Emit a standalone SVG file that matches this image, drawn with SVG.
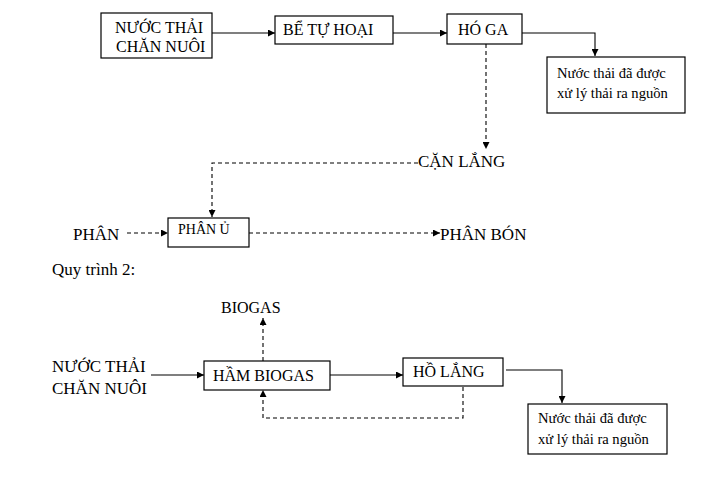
<svg xmlns="http://www.w3.org/2000/svg" width="722" height="480" viewBox="0 0 722 480">
<style>
text{font-family:"Liberation Serif","Times New Roman",serif;fill:#000}
.b{fill:#fff;stroke:#000;stroke-width:1.2}
.l{fill:none;stroke:#000;stroke-width:1.1}
.d{fill:none;stroke:#000;stroke-width:1.1;stroke-dasharray:4 3}
.f16{font-size:16px}.f17{font-size:17px}.f14{font-size:14.6px}.f14s{font-size:14px}
</style>
<defs>
<marker id="a" viewBox="0 0 10 10" refX="10" refY="5" markerWidth="8" markerHeight="7" markerUnits="userSpaceOnUse" orient="auto"><path d="M0,0L10,5L0,10z" fill="#000"/></marker>
</defs>
<rect width="722" height="480" fill="#fff"/>
<g id="connectors">
<path class="l" d="M212,33H275" marker-end="url(#a)"/>
<path class="l" d="M393,33H447" marker-end="url(#a)"/>
<path class="l" d="M522,33H595V56" marker-end="url(#a)"/>
<path class="d" d="M486,44V149" marker-end="url(#a)"/>
<path class="d" d="M418,163H212V217" marker-end="url(#a)"/>
<path class="d" d="M127,233H168" marker-end="url(#a)"/>
<path class="d" d="M249,233H440" marker-end="url(#a)"/>
<path class="d" d="M263,361V318" marker-end="url(#a)"/>
<path class="l" d="M151,375H204" marker-end="url(#a)"/>
<path class="l" d="M330,375H403" marker-end="url(#a)"/>
<path class="l" d="M506,370H562V403" marker-end="url(#a)"/>
<path class="d" d="M463,387V418H263V390" marker-end="url(#a)"/>
</g>
<g id="n1"><rect class="b" x="101" y="13" width="111" height="45"/><text class="f16" x="115" y="33">NƯỚC THẢI</text><text class="f16" x="116" y="52">CHĂN NUÔI</text></g>
<g id="n2"><rect class="b" x="275" y="16" width="118" height="28"/><text class="f16" x="283" y="35">BỂ TỰ HOẠI</text></g>
<g id="n3"><rect class="b" x="447" y="14" width="75" height="30"/><text class="f16" x="458" y="35">HÓ GA</text></g>
<g id="n4"><rect class="b" x="547" y="57" width="138" height="56"/><text class="f14" x="557" y="78">Nước thải đã được</text><text class="f14" x="557" y="98">xử lý thải ra nguồn</text></g>
<g id="n5"><text class="f17" x="418" y="167">CẶN LẮNG</text></g>
<g id="n6"><text class="f17" x="73" y="240">PHÂN</text></g>
<g id="n7"><rect class="b" x="168" y="218" width="81" height="29"/><text class="f14s" x="178" y="234">PHÂN Ủ</text></g>
<g id="n8"><text class="f17" x="440" y="240">PHÂN BÓN</text></g>
<g id="t2"><text class="f17" x="52" y="275">Quy trình 2:</text></g>
<g id="n9"><text class="f16" x="221" y="313">BIOGAS</text></g>
<g id="n10"><text class="f17" x="52" y="372">NƯỚC THẢI</text><text class="f17" x="52" y="394">CHĂN NUÔI</text></g>
<g id="n11"><rect class="b" x="204" y="361" width="126" height="29"/><text class="f16" x="213" y="381">HẦM BIOGAS</text></g>
<g id="n12"><rect class="b" x="403" y="358" width="100" height="28"/><text class="f16" x="413" y="377">HỒ LẮNG</text></g>
<g id="n13"><rect class="b" x="528" y="404" width="139" height="50"/><text class="f14" x="538" y="423">Nước thải đã được</text><text class="f14" x="538" y="444">xử lý thải ra nguồn</text></g>
</svg>
